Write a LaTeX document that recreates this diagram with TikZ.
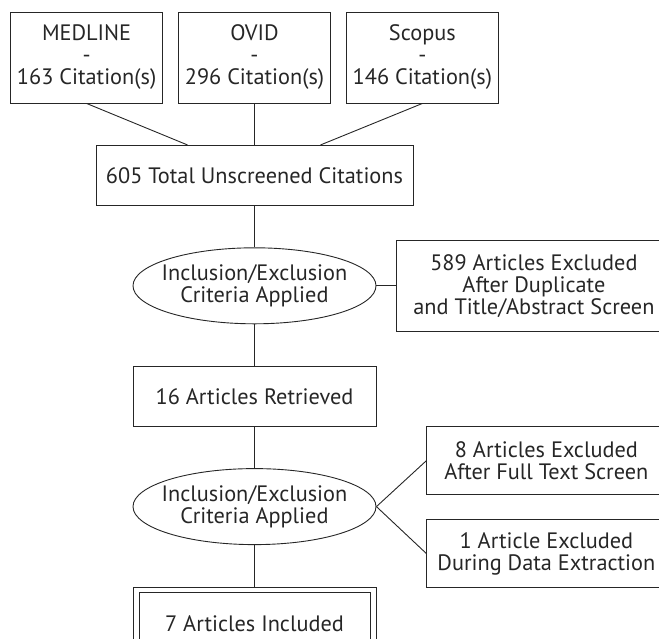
\documentclass[tikz,border=0pt]{standalone}
\usepackage{fontspec}
\setmainfont{PT Sans}
\usetikzlibrary{positioning,shapes.geometric}

\begin{document}
\begin{tikzpicture}[
  x=1pt, y=-1pt,
  node distance=41.5pt and 15pt,
  every node/.style={font=\fontsize{22.3}{22}\selectfont, align=center, text=black!85},
  srcbox/.style={draw=black!85, line width=0.9pt, minimum width=152pt, minimum height=91pt, inner sep=0pt},
  stepbox/.style={draw=black!85, line width=0.9pt, minimum width=243pt, minimum height=60pt, inner sep=0pt},
  critnode/.style={draw=black!85, ellipse, line width=0.9pt, minimum width=243pt, minimum height=76pt, inner xsep=-7pt, inner ysep=0pt},
  exclbox/.style={draw=black!85, line width=0.9pt, minimum width=239pt, minimum height=68pt, inner sep=0pt},
  link/.style={draw=black!85, line width=0.9pt}
]
\useasboundingbox (0,0) rectangle (659,638);
\clip (0,0) rectangle (659,638);

% Databases
\node[srcbox] (ovid) at (254.5,57.5) {OVID\\-\\296 Citation(s)};
\node[srcbox, left=of ovid] (medline) {MEDLINE\\-\\163 Citation(s)};
\node[srcbox, right=of ovid] (scopus) {Scopus\\-\\146 Citation(s)};

% Screening steps
\node[stepbox, minimum width=317pt, below=of ovid] (total) {605 Total Unscreened Citations};
\node[critnode, below=of total] (crit1) {Inclusion/Exclusion\\Criteria Applied};
\node[stepbox, below=of crit1] (ret) {16 Articles Retrieved};
\node[critnode, below=of ret] (crit2) {Inclusion/Exclusion\\Criteria Applied};

% Final box (double frame)
\node[stepbox, minimum height=74pt, below=of crit2] (final) {};
\node[stepbox, minimum width=231pt, minimum height=63pt] (finalin) at (final) {7 Articles Included};

% Exclusions
\node[exclbox, minimum width=274pt, minimum height=91pt, right=20pt of crit1] (excl1) {589 Articles Excluded\\After Duplicate\\and Title/Abstract Screen};
\node[exclbox, right=50pt of crit2, yshift=46pt] (excl2) {8 Articles Excluded\\After Full Text Screen};
\node[exclbox, right=50pt of crit2, yshift=-47pt] (excl3) {1 Article Excluded\\During Data Extraction};

% Links
\draw[link] (medline.south) -- ([xshift=-67pt]total.north);
\draw[link] (ovid) -- (total);
\draw[link] (scopus.south) -- ([xshift=66pt]total.north);
\draw[link] (total) -- (crit1);
\draw[link] (crit1) -- (excl1);
\draw[link] (crit1) -- (ret);
\draw[link] (ret) -- (crit2);
\draw[link] (crit2.east) -- (excl2.west);
\draw[link] (crit2.east) -- (excl3.west);
\draw[link] (crit2) -- (final);

\end{tikzpicture}
\end{document}
